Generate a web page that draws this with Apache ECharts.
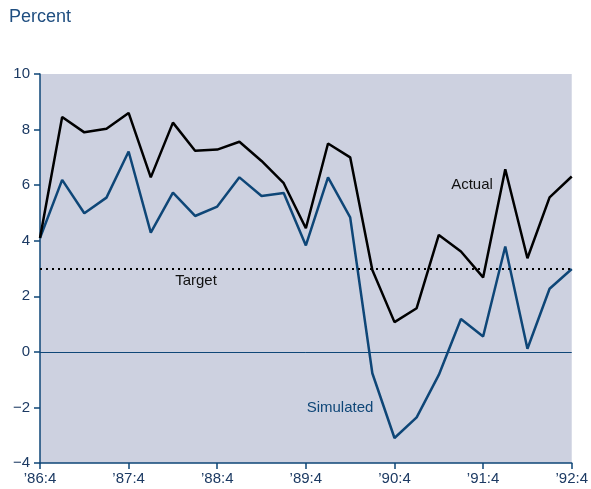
<!DOCTYPE html>
<html>
<head>
<meta charset="utf-8">
<script src="https://cdn.jsdelivr.net/npm/echarts@6/dist/echarts.min.js"></script>
<style>
  html, body { margin: 0; padding: 0; background: #fff; }
  #chart { width: 591px; height: 489px; }
</style>
</head>
<body>
<div id="chart"></div>
<script>
// quarters '86:4 .. '92:4
const quarters = [
  '’86:4', '’87:1', '’87:2', '’87:3', '’87:4', '’88:1', '’88:2', '’88:3', '’88:4',
  '’89:1', '’89:2', '’89:3', '’89:4', '’90:1', '’90:2', '’90:3', '’90:4',
  '’91:1', '’91:2', '’91:3', '’91:4', '’92:1', '’92:2', '’92:3', '’92:4'
];
const actual = [
  4.1, 8.45, 7.9, 8.03, 8.6, 6.28, 8.25, 7.24, 7.28,
  7.56, 6.87, 6.07, 4.45, 7.5, 7.0, 2.95, 1.07,
  1.57, 4.21, 3.61, 2.68, 6.57, 3.37, 5.56, 6.31
];
const simulated = [
  4.1, 6.19, 4.99, 5.55, 7.21, 4.29, 5.73, 4.89, 5.23,
  6.28, 5.61, 5.72, 3.83, 6.28, 4.84, -0.77, -3.1,
  -2.36, -0.83, 1.18, 0.55, 3.79, 0.11, 2.27, 2.98
];
const target = 3;
const yTicks = { min: -4, max: 10, step: 2 };

const blue = '#0e4677';
const labelColor = '#1c3a63';
const font = '"Liberation Sans", Arial, sans-serif';

const chart = echarts.init(document.getElementById('chart'));

chart.setOption({
  animation: false,
  textStyle: { fontFamily: font },
  grid: {
    left: 40, right: 18, top: 74, bottom: 26,
    show: true, backgroundColor: '#cdd1e0', borderWidth: 0
  },
  xAxis: {
    type: 'category',
    data: quarters,
    boundaryGap: false,
    axisLine: { onZero: false, lineStyle: { color: blue, width: 1.5 } },
    axisTick: { interval: 3, length: 6, lineStyle: { color: blue, width: 1.5 } },
    axisLabel: { interval: 3, color: labelColor, fontSize: 15, margin: 8, fontFamily: font },
    splitLine: { show: false }
  },
  yAxis: {
    type: 'value',
    min: yTicks.min, max: yTicks.max, interval: yTicks.step,
    axisLine: { show: true, lineStyle: { color: blue, width: 1.5 } },
    axisTick: { show: true, length: 6, lineStyle: { color: blue, width: 1.5 } },
    axisLabel: {
      color: labelColor, fontSize: 15, margin: 10, fontFamily: font,
      formatter: v => String(v).replace('-', '−')
    },
    splitLine: { show: false }
  },
  series: [
    {
      name: 'Simulated',
      type: 'line',
      data: simulated,
      symbol: 'none',
      lineStyle: { color: blue, width: 2.5 },
      z: 3,
      markLine: {
        silent: true, symbol: 'none', label: { show: false },
        lineStyle: { color: blue, width: 1, type: 'solid' },
        data: [{ yAxis: 0 }]
      }
    },
    {
      name: 'Actual',
      type: 'line',
      data: actual,
      symbol: 'none',
      lineStyle: { color: '#000', width: 2.5 },
      z: 4,
      markLine: {
        silent: true, symbol: 'none', label: { show: false },
        lineStyle: { color: '#000', width: 2, type: [2, 4] },
        data: [{ yAxis: target }]
      }
    }
  ],
  graphic: [
    { type: 'text', left: 9, top: 8, style: { text: 'Percent', fill: '#1f4e80', font: '18px ' + font } },
    { type: 'text', x: 472, y: 185, style: { text: 'Actual', fill: '#111', font: '15px ' + font, align: 'center', verticalAlign: 'middle' } },
    { type: 'text', x: 196, y: 281, style: { text: 'Target', fill: '#111', font: '15px ' + font, align: 'center', verticalAlign: 'middle' } },
    { type: 'text', x: 340, y: 408, style: { text: 'Simulated', fill: blue, font: '15px ' + font, align: 'center', verticalAlign: 'middle' } }
  ]
});
</script>
</body>
</html>
